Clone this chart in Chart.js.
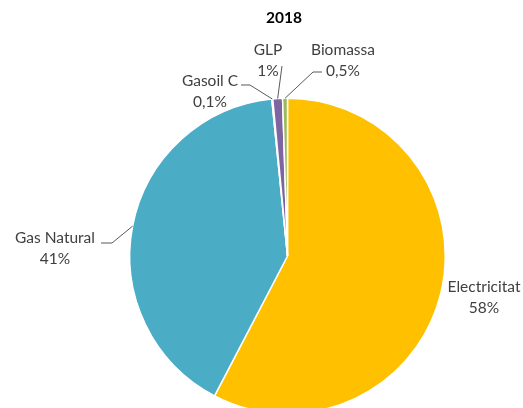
<!DOCTYPE html>
<html>
<head>
<meta charset="utf-8">
<script src="https://cdn.jsdelivr.net/npm/chart.js@4/dist/chart.umd.min.js"></script>
<style>
  html, body { margin: 0; padding: 0; background: #fff; overflow: hidden; }
  #wrap { width: 523px; height: 420px; }
</style>
</head>
<body>
<div id="wrap"><canvas id="pie" width="523" height="420"></canvas></div>
<script>
/* Energy mix 2018 — pie with outside labels and leader lines */

const TITLE   = '2018';
const SOURCES = ['Electricitat', 'Gas Natural', 'Gasoil C', 'GLP', 'Biomassa'];
const SHARES  = [58, 41, 0.1, 1, 0.5];
const COLORS  = ['#FFC000', '#4BACC6', '#F79646', '#8064A2', '#9BBB59'];

const INK  = '#404040';
const LINE = '#595959';
const FONT = 'Lato, "Open Sans", sans-serif';
const FSIZE = 15.5;

// where each label sits (text centre) and the bend points of its leader line
const LABEL_POS = {
  'Electricitat': { x: 484, y: 287, leader: null },
  'Gas Natural':  { x: 55,  y: 238, leader: [[101, 243], [112, 243]] },
  'Gasoil C':     { x: 210, y: 81,  leader: [[241, 85], [250, 85]] },
  'GLP':          { x: 268, y: 50,  leader: [[282, 66]] },
  'Biomassa':     { x: 343, y: 50,  leader: [[322, 72], [313, 72]] }
};

const fmtPct = v => String(v).replace('.', ',') + '%';

const labelsPlugin = {
  id: 'pieLabels',
  afterDraw(chart) {
    const ctx = chart.ctx;
    const arcs = chart.getDatasetMeta(0).data;
    ctx.save();

    // title
    ctx.fillStyle = '#000';
    ctx.font = `bold 15.5px ${FONT}`;
    ctx.textAlign = 'center';
    ctx.textBaseline = 'middle';
    ctx.fillText(TITLE, 284, 18);

    SOURCES.forEach((name, i) => {
      const pos = LABEL_POS[name];
      const a = arcs[i];
      const p = a.getProps(['x', 'y', 'startAngle', 'endAngle', 'outerRadius'], true);
      const mid = (p.startAngle + p.endAngle) / 2;
      const ex = p.x + Math.cos(mid) * p.outerRadius;
      const ey = p.y + Math.sin(mid) * p.outerRadius;

      if (pos.leader) {
        ctx.strokeStyle = LINE;
        ctx.lineWidth = 1;
        ctx.beginPath();
        ctx.moveTo(pos.leader[0][0], pos.leader[0][1]);
        pos.leader.slice(1).forEach(pt => ctx.lineTo(pt[0], pt[1]));
        ctx.lineTo(ex, ey);
        ctx.stroke();
      }

      ctx.fillStyle = INK;
      ctx.font = `${FSIZE}px ${FONT}`;
      ctx.fillText(name, pos.x, pos.y);
      ctx.fillText(fmtPct(SHARES[i]), pos.x, pos.y + 21);
    });
    ctx.restore();
  }
};

new Chart(document.getElementById('pie'), {
  type: 'pie',
  data: {
    labels: SOURCES,
    datasets: [{
      data: SHARES,
      backgroundColor: COLORS,
      borderColor: '#fff',
      borderWidth: 1.5,
      hoverOffset: 0
    }]
  },
  options: {
    responsive: false,
    animation: false,
    layout: { padding: { left: 129, right: 77, top: 97, bottom: 5 } },
    plugins: {
      legend: { display: false },
      tooltip: { enabled: false },
      title: { display: false }
    }
  },
  plugins: [labelsPlugin]
});
</script>
</body>
</html>
